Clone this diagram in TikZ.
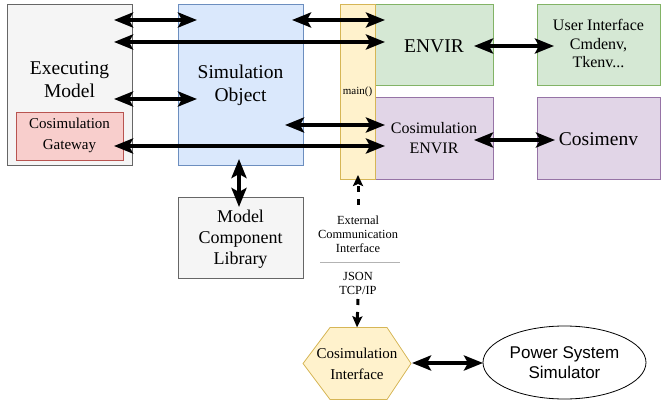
\documentclass[tikz,border=0pt]{standalone}
\usepackage{fontspec}
\setmainfont{Liberation Serif}
\newfontfamily\sansfont{Liberation Sans}
\usetikzlibrary{arrows.meta,shapes.geometric}

\definecolor{greyfill}{HTML}{F5F5F5}
\definecolor{greyline}{HTML}{666666}
\definecolor{bluefill}{HTML}{DAE8FC}
\definecolor{blueline}{HTML}{6C8EBF}
\definecolor{greenfill}{HTML}{D5E8D4}
\definecolor{greenline}{HTML}{82B366}
\definecolor{purplefill}{HTML}{E1D5E7}
\definecolor{purpleline}{HTML}{9673A6}
\definecolor{redfill}{HTML}{F8CECC}
\definecolor{redline}{HTML}{B85450}
\definecolor{yellowfill}{HTML}{FFF2CC}
\definecolor{yellowline}{HTML}{D6B656}
\definecolor{sepline}{HTML}{B3B3B3}

\tikzset{
  box/.style={draw, line width=0.8pt, inner sep=0pt, rectangle},
  greybox/.style={box, draw=greyline, fill=greyfill},
  bluebox/.style={box, draw=blueline, fill=bluefill},
  greenbox/.style={box, draw=greenline, fill=greenfill},
  purplebox/.style={box, draw=purpleline, fill=purplefill},
  redbox/.style={box, draw=redline, fill=redfill},
  yellowbox/.style={box, draw=yellowline, fill=yellowfill},
  txt/.style={inner sep=0pt, align=center, text=black},
  bigarrow/.style={line width=4pt,
    {Stealth[length=19pt,width=15pt,inset=4pt]}-{Stealth[length=19pt,width=15pt,inset=4pt]}},
  dasharrow/.style={line width=3pt, dash pattern=on 6pt off 7pt,
    -{Stealth[length=11pt,width=10pt,inset=2pt]}},
}

\begin{document}
\begin{tikzpicture}[x=1pt,y=-1pt]
\useasboundingbox (0,0) rectangle (661,403);

% --- boxes ---
\node[greybox, minimum width=125pt, minimum height=161pt] (exec) at (69.5,84.5) {};
\node[txt, font=\fontsize{19.5}{23}\selectfont] (exectext) at (69.5,80) {Executing\\Model};
\node[redbox, minimum width=107pt, minimum height=48pt] (gateway) at (69.5,136) {};
\node[txt, font=\fontsize{15}{21}\selectfont] (gatewaytext) at (69.5,135.5) {Cosimulation\\Gateway};

\node[bluebox, minimum width=125pt, minimum height=161pt] (simobj) at (240.5,84.5) {};
\node[txt, font=\fontsize{19.5}{23}\selectfont] (simtext) at (240.5,85) {Simulation\\Object};

\node[greenbox, minimum width=118pt, minimum height=81pt] (envir) at (434,44.5) {};
\node[txt, font=\fontsize{19.5}{23}\selectfont] (envirtext) at (434,46) {ENVIR};

\node[greenbox, minimum width=123pt, minimum height=81pt] (ui) at (598.5,44.5) {};
\node[txt, font=\fontsize{16}{18.5}\selectfont] (uitext) at (598.5,43.5) {User Interface\\Cmdenv,\\Tkenv...};

\node[purplebox, minimum width=118pt, minimum height=82pt] (cenvir) at (434,138) {};
\node[txt, font=\fontsize{16}{20}\selectfont] (cenvirtext) at (434,138) {Cosimulation\\ENVIR};

\node[purplebox, minimum width=123pt, minimum height=82pt] (cosimenv) at (598.5,138) {};
\node[txt, font=\fontsize{19.5}{23}\selectfont] (cosimenvtext) at (598.5,139) {Cosimenv};

\node[yellowbox, minimum width=35pt, minimum height=175pt] (mainbar) at (357.5,91.5) {};
\node[txt, font=\fontsize{11}{13}\selectfont] (maintext) at (357.5,92) {main()};

\node[greybox, minimum width=125pt, minimum height=81pt] (mcl) at (240.5,237.5) {};
\node[txt, font=\fontsize{18}{21}\selectfont] (mcltext) at (240.5,239) {Model\\Component\\Library};

% --- external interface labels ---
\node[txt, font=\fontsize{12.4}{14}\selectfont] (ext) at (358,234) {External\\Communication\\Interface};
\coordinate (sepL) at (320,262);
\coordinate (sepR) at (400,262);
\draw[sepline, line width=0.8pt] (sepL) -- (sepR);
\node[txt, font=\fontsize{12.4}{13.5}\selectfont] (json) at (358,283.5) {JSON\\TCP/IP};

% --- cosimulation interface hexagon ---
\fill[yellowfill] (303,363.5) -- (330,327.5) -- (387,327.5) -- (411,363.5) -- (387,399.5) -- (330,399.5) -- cycle;
\draw[yellowline, line width=0.8pt] (303,363.5) -- (330,327.5) -- (387,327.5) -- (411,363.5) -- (387,399.5) -- (330,399.5) -- cycle;
\node[txt, minimum width=108pt, minimum height=72pt, font=\fontsize{15}{21}\selectfont] (hex) at (357,363.5) {Cosimulation\\Interface};

% --- power system simulator ---
\node[ellipse, draw=black, line width=0.8pt, fill=white, inner sep=0pt,
  minimum width=163pt, minimum height=73pt, align=center,
  font=\sansfont\fontsize{17}{20}\selectfont] (pss) at (564.5,362.5) {Power System\\Simulator};

% --- arrow end points ---
\coordinate (e1) at (114,20);   \coordinate (s1) at (197,20);
\coordinate (s1b) at (292,20);  \coordinate (v1) at (385,20);
\coordinate (e2) at (114,42);   \coordinate (v2) at (385,42);
\coordinate (e3) at (114,99);   \coordinate (s3) at (197,99);
\coordinate (s4) at (285,125);  \coordinate (c4) at (385,125);
\coordinate (g5) at (114,146);  \coordinate (c5) at (385,146);
\coordinate (vR) at (474,46);   \coordinate (uL) at (554,46);
\coordinate (cR) at (474,140);  \coordinate (kL) at (555,140);
\coordinate (sB) at (239,159);  \coordinate (mT) at (239,207);
\coordinate (extTop) at (358,205);
\coordinate (mainTip) at (358,175);
\coordinate (jsonBot) at (358,299);
\coordinate (hexR) at (412,363);
\coordinate (pssL) at (483,363);

% --- arrows ---
\draw[bigarrow] (e1) -- (s1);
\draw[bigarrow] (s1b) -- (v1);
\draw[bigarrow] (e2) -- (v2);
\draw[bigarrow] (e3) -- (s3);
\draw[bigarrow] (s4) -- (c4);
\draw[bigarrow] (g5) -- (c5);
\draw[bigarrow] (vR) -- (uL);
\draw[bigarrow] (cR) -- (kL);
\draw[bigarrow] (sB) -- (mT);
\draw[bigarrow] (hexR) -- (pssL);
\draw[dasharrow] (extTop) -- (mainTip);
\draw[dasharrow] (jsonBot) -- (hex.north);
\end{tikzpicture}
\end{document}
